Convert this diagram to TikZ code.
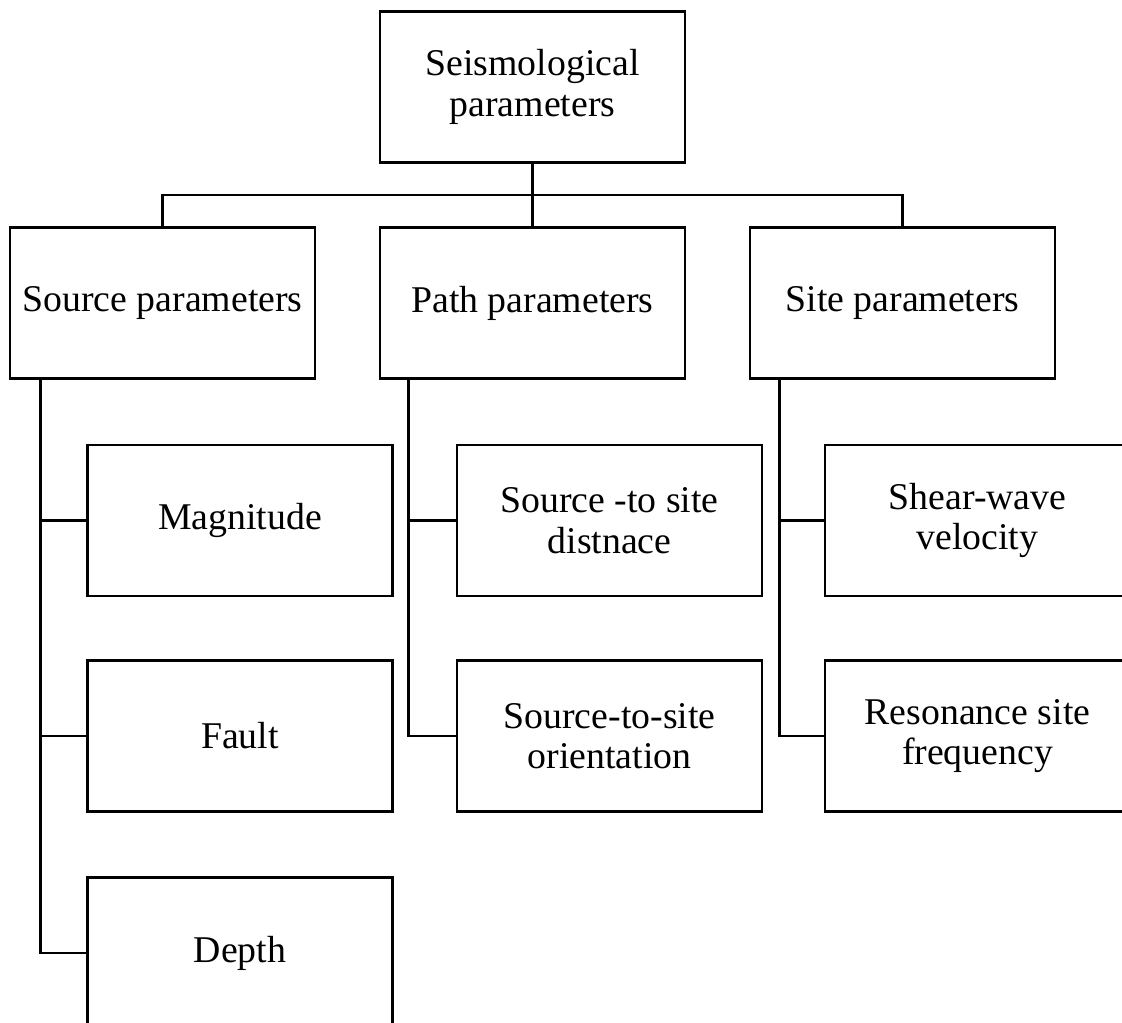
\documentclass[tikz,border=0pt]{standalone}
\usepackage{fontspec}
\setmainfont{Liberation Serif}
\usepackage{tikz}

\tikzset{
  parbox/.style={draw,line width=1.5pt,minimum width=6.1cm,minimum height=3.02cm,
    align=center,font=\fontsize{21.5}{23}\selectfont,inner sep=0pt},
  wire/.style={line width=1.5pt}
}

\begin{document}
\begin{tikzpicture}[x=0.02cm,y=-0.02cm]
  \useasboundingbox (0,0) rectangle (1122,1023);
  \clip (0,0) rectangle (1122,1023);
  % top level
  \node[parbox] (seis) at (532.5,87) {Seismological\\parameters};
  \node[parbox] (source) at (162.5,303) {Source parameters};
  \node[parbox] (path) at (532.5,303) {Path parameters};
  \node[parbox] (site) at (902.5,303) {Site parameters};
  \coordinate (bus) at (532.5,195);
  \draw[wire] (seis) -- (path);
  \draw[wire] (source.north) |- (bus) -| (site.north);
  % source branch
  \node[parbox] (mag) at (240,520.5) {Magnitude};
  \node[parbox] (fault) at (240,736) {Fault};
  \node[parbox] (depth) at (240,953) {Depth};
  \draw[wire] ([xshift=0.64cm]source.south west) |- (depth.west);
  \draw[wire] ([xshift=0.64cm]source.south west) |- (mag.west);
  \draw[wire] ([xshift=0.64cm]source.south west) |- (fault.west);
  % path branch
  \node[parbox] (dist) at (609.5,520.5) {Source -to site\\distnace};
  \node[parbox] (orient) at (609.5,736) {Source-to-site\\orientation};
  \draw[wire] ([xshift=0.6cm]path.south west) |- (orient.west);
  \draw[wire] ([xshift=0.6cm]path.south west) |- (dist.west);
  % site branch
  \node[parbox] (shear) at (977.5,520.5) {Shear-wave\\velocity};
  \node[parbox] (reso) at (977.5,736) {Resonance site\\frequency};
  \draw[wire] ([xshift=0.62cm]site.south west) |- (reso.west);
  \draw[wire] ([xshift=0.62cm]site.south west) |- (shear.west);
\end{tikzpicture}
\end{document}
